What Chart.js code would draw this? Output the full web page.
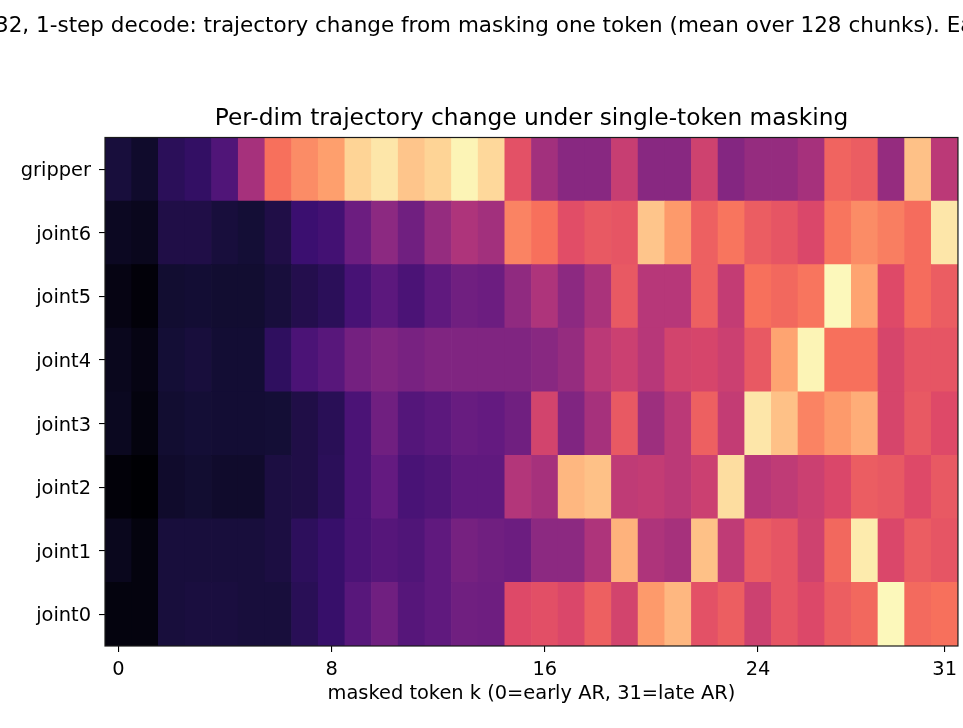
<!DOCTYPE html>
<html>
<head>
<meta charset="utf-8">
<script src="https://cdn.jsdelivr.net/npm/chart.js@4.4.1/dist/chart.umd.min.js"></script>
<style>
  html, body { margin: 0; padding: 0; background: #fff; }
  #wrap { width: 963px; height: 728px; position: relative; }
</style>
</head>
<body>
<div id="wrap"><canvas id="heat"></canvas></div>
<script>
// ---- data: mean trajectory change per action dim, per masked token k ----
const tokens = ['0','1','2','3','4','5','6','7','8','9','10','11','12','13','14','15',
                '16','17','18','19','20','21','22','23','24','25','26','27','28','29','30','31'];
const xTickIdx = [0, 8, 16, 24, 31];
const dims = ['joint0', 'joint1', 'joint2', 'joint3', 'joint4', 'joint5', 'joint6', 'gripper']; // bottom -> top

const gripper = [0.11, 0.08, 0.16, 0.18, 0.25, 0.46, 0.70, 0.76, 0.80, 0.91, 0.95, 0.88, 0.91, 0.98, 0.92, 0.62,
                 0.45, 0.39, 0.39, 0.54, 0.39, 0.39, 0.56, 0.38, 0.42, 0.42, 0.46, 0.67, 0.65, 0.42, 0.87, 0.51];
const joint6  = [0.06, 0.05, 0.13, 0.13, 0.11, 0.10, 0.13, 0.20, 0.22, 0.32, 0.40, 0.33, 0.42, 0.48, 0.45, 0.74,
                 0.70, 0.61, 0.64, 0.63, 0.88, 0.79, 0.66, 0.71, 0.65, 0.63, 0.59, 0.71, 0.76, 0.73, 0.69, 0.95];
const joint5  = [0.03, 0.01, 0.09, 0.095, 0.09, 0.09, 0.11, 0.14, 0.16, 0.23, 0.28, 0.24, 0.29, 0.33, 0.32, 0.41,
                 0.48, 0.40, 0.47, 0.64, 0.50, 0.50, 0.66, 0.53, 0.70, 0.68, 0.71, 0.99, 0.81, 0.60, 0.69, 0.65];
const joint4  = [0.05, 0.03, 0.10, 0.11, 0.095, 0.095, 0.17, 0.24, 0.27, 0.34, 0.37, 0.35, 0.37, 0.37, 0.37, 0.37,
                 0.39, 0.42, 0.51, 0.55, 0.50, 0.57, 0.58, 0.55, 0.64, 0.81, 0.98, 0.70, 0.70, 0.58, 0.63, 0.63];
const joint3  = [0.055, 0.02, 0.09, 0.10, 0.095, 0.095, 0.10, 0.13, 0.155, 0.24, 0.33, 0.26, 0.28, 0.31, 0.30, 0.33,
                 0.57, 0.37, 0.46, 0.64, 0.44, 0.51, 0.66, 0.53, 0.95, 0.87, 0.74, 0.79, 0.83, 0.58, 0.64, 0.60];
const joint2  = [0.01, 0.00, 0.08, 0.09, 0.08, 0.08, 0.12, 0.13, 0.16, 0.24, 0.30, 0.235, 0.25, 0.29, 0.29, 0.49,
                 0.46, 0.85, 0.87, 0.52, 0.53, 0.51, 0.55, 0.93, 0.50, 0.52, 0.55, 0.59, 0.65, 0.64, 0.60, 0.64];
const joint1  = [0.05, 0.02, 0.11, 0.11, 0.11, 0.11, 0.12, 0.165, 0.19, 0.24, 0.265, 0.25, 0.29, 0.345, 0.33, 0.32,
                 0.40, 0.40, 0.48, 0.84, 0.48, 0.46, 0.87, 0.52, 0.65, 0.63, 0.56, 0.68, 0.96, 0.59, 0.65, 0.63];
const joint0  = [0.02, 0.02, 0.11, 0.115, 0.115, 0.11, 0.11, 0.155, 0.19, 0.27, 0.33, 0.265, 0.29, 0.33, 0.325, 0.60,
                 0.615, 0.59, 0.66, 0.57, 0.79, 0.85, 0.62, 0.655, 0.555, 0.63, 0.595, 0.655, 0.68, 0.99, 0.685, 0.70];

const rows = [joint0, joint1, joint2, joint3, joint4, joint5, joint6, gripper];

// magma colormap, sampled every 0.1
const MAGMA = ['#000004', '#140e36', '#3b0f70', '#641a80', '#8c2981', '#b73779',
               '#de4968', '#f7705c', '#fe9f6d', '#fecf92', '#fcfdbf'];
const vmin = 0, vmax = 1;

function hexRgb(h) {
  return [parseInt(h.slice(1,3),16), parseInt(h.slice(3,5),16), parseInt(h.slice(5,7),16)];
}
function magma(v) {
  let t = Math.min(1, Math.max(0, (v - vmin) / (vmax - vmin))) * (MAGMA.length - 1);
  const i = Math.min(MAGMA.length - 2, Math.floor(t));
  const f = t - i;
  const a = hexRgb(MAGMA[i]), b = hexRgb(MAGMA[i+1]);
  const c = a.map((x, k) => Math.round(x + (b[k] - x) * f));
  return `rgb(${c[0]},${c[1]},${c[2]})`;
}

const FONT = 'DejaVu Sans';

// each row is one dataset of floating bars spanning [r, r+1] on y
const datasets = rows.map((vals, r) => ({
  label: dims[r],
  data: vals.map(() => [r, r + 1]),
  backgroundColor: vals.map(magma),
  borderWidth: 0,
  barPercentage: 1,
  categoryPercentage: 1,
  grouped: false,
}));

const decor = {
  id: 'decor',
  afterDraw(chart) {
    const { ctx, chartArea: a } = chart;
    ctx.save();
    // full axes box
    ctx.strokeStyle = '#1a1a1a';
    ctx.lineWidth = 1.2;
    ctx.strokeRect(a.left, a.top, a.right - a.left, a.bottom - a.top);
    ctx.fillStyle = '#000';
    ctx.textBaseline = 'alphabetic';
    // figure suptitle (runs off the canvas on both sides)
    ctx.font = `21.5px "${FONT}"`;
    ctx.textAlign = 'left';
    ctx.fillText('32, 1-step decode: trajectory change from masking one token (mean over 128 chunks). Ea', -5, 32);
    // axes title
    ctx.font = `23.3px "${FONT}"`;
    ctx.textAlign = 'center';
    ctx.fillText('Per-dim trajectory change under single-token masking', (a.left + a.right) / 2, 125);
    // x label
    ctx.font = `19.4px "${FONT}"`;
    ctx.fillText('masked token k (0=early AR, 31=late AR)', (a.left + a.right) / 2, 699);
    ctx.restore();
  }
};

new Chart(document.getElementById('heat'), {
  type: 'bar',
  data: { labels: tokens, datasets },
  options: {
    responsive: true,
    maintainAspectRatio: false,
    animation: false,
    layout: { padding: { top: 137.5, right: 2, left: 0, bottom: 0 } },
    plugins: { legend: { display: false }, tooltip: { enabled: false }, title: { display: false } },
    scales: {
      x: {
        type: 'category',
        offset: true,
        afterBuildTicks: s => { s.ticks = s.ticks.filter(t => xTickIdx.includes(t.value)); },
        afterFit: s => { s.height = 82; },
        grid: { offset: false, drawOnChartArea: false, drawTicks: true, tickLength: 6, color: '#000', lineWidth: 1.1 },
        border: { display: false },
        ticks: { autoSkip: false, maxRotation: 0, padding: 6, color: '#000', font: { family: FONT, size: 19.4 } },
      },
      y: {
        type: 'linear',
        min: 0,
        max: 8,
        afterBuildTicks: s => { s.ticks = dims.map((d, i) => ({ value: i + 0.5 })); },
        afterFit: s => { s.width = 105; },
        grid: { drawOnChartArea: false, drawTicks: true, tickLength: 6, color: '#000', lineWidth: 1.1 },
        border: { display: false },
        ticks: { padding: 8, labelOffset: 2, color: '#000', font: { family: FONT, size: 19.4 },
                 callback: v => dims[Math.floor(v)] },
      },
    },
  },
  plugins: [decor],
});
</script>
</body>
</html>
